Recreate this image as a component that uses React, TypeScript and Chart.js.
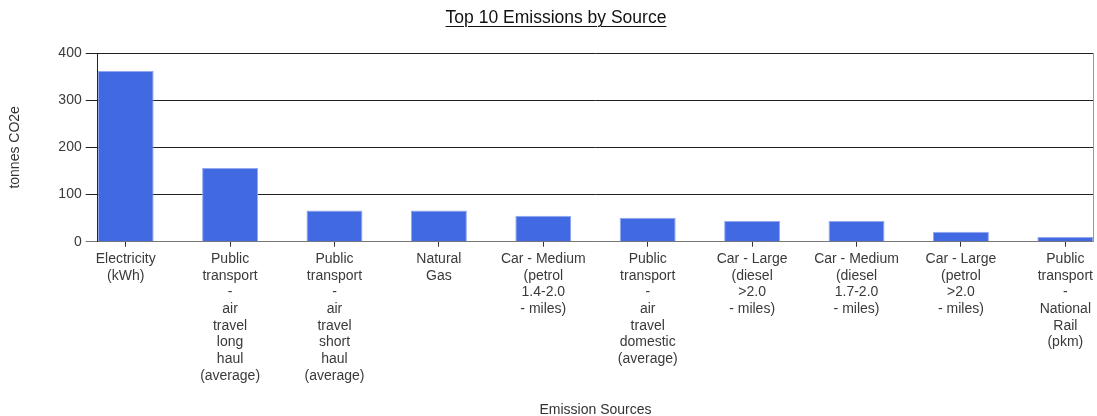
import React, { useEffect, useRef } from "react";
import { Chart, registerables } from "chart.js";

Chart.register(...registerables);

const chartTitle = "Top 10 Emissions by Source";
const yAxisTitle = "tonnes CO2e";
const xAxisTitle = "Emission Sources";

const categories: string[][] = [
  ["Electricity", "(kWh)"],
  ["Public", "transport", "-", "air", "travel", "long", "haul", "(average)"],
  ["Public", "transport", "-", "air", "travel", "short", "haul", "(average)"],
  ["Natural", "Gas"],
  ["Car - Medium", "(petrol", "1.4-2.0", "- miles)"],
  ["Public", "transport", "-", "air", "travel", "domestic", "(average)"],
  ["Car - Large", "(diesel", ">2.0", "- miles)"],
  ["Car - Medium", "(diesel", "1.7-2.0", "- miles)"],
  ["Car - Large", "(petrol", ">2.0", "- miles)"],
  ["Public", "transport", "-", "National", "Rail", "(pkm)"],
];

const emissions: number[] = [362, 156, 66, 66, 55, 51, 44, 44, 21, 10];

const yMin = 0;
const yMax = 400;
const yStep = 100;

const FONT = "'Liberation Sans', Arial, sans-serif";

export default function App() {
  const canvasRef = useRef<HTMLCanvasElement | null>(null);

  useEffect(() => {
    if (!canvasRef.current) return;
    const chart = new Chart(canvasRef.current, {
      type: "bar",
      data: {
        datasets: [
          {
            label: yAxisTitle,
            data: emissions.map((v, i) => ({ x: i, y: v })),
            backgroundColor: "#4169E1",
            borderColor: "#93A8EF",
            borderWidth: 1,
            barPercentage: 0.536,
            categoryPercentage: 1,
          },
        ],
      },
      options: {
        animation: false,
        responsive: true,
        maintainAspectRatio: false,
        layout: { padding: { top: 53, right: 1.5, left: 0, bottom: 0 } },
        plugins: {
          legend: { display: false },
          title: { display: false },
          tooltip: { enabled: false },
        },
        scales: {
          x: {
            type: "linear",
            min: -0.268,
            max: categories.length - 1 + 0.268,
            offset: false,
            afterBuildTicks: (axis: any) => {
              axis.ticks = categories.map((_, i) => ({ value: i }));
            },
            afterFit: (axis: any) => {
              axis.height = 174.3;
            },
            ticks: {
              autoSkip: false,
              maxRotation: 0,
              minRotation: 0,
              padding: 4,
              color: "#3a3a3a",
              font: { family: FONT, size: 14, lineHeight: 1.19 },
              callback: (value: any) => categories[Math.round(Number(value))] ?? "",
            },
            grid: {
              display: true,
              offset: false,
              drawOnChartArea: false,
              drawTicks: true,
              tickLength: 5,
              color: "#333",
              tickColor: "#333",
              tickWidth: 1,
              lineWidth: 1,
            },
            border: { display: true, color: "#777" },
            title: {
              display: true,
              text: xAxisTitle,
              color: "#333",
              font: { family: FONT, size: 14, lineHeight: "12px" as any },
              padding: { top: 0, bottom: 0 },
            },
          },
          y: {
            min: yMin,
            max: yMax,
            afterFit: (axis: any) => {
              axis.width = 97.7;
            },
            ticks: {
              stepSize: yStep,
              padding: 4,
              color: "#3a3a3a",
              font: { family: FONT, size: 14 },
            },
            grid: {
              tickLength: 12,
              color: (ctx: any) => (ctx.tick && ctx.tick.value === 0 ? "#777" : "#222"),
            },
            border: { display: true, color: "#222" },
            title: {
              display: true,
              text: yAxisTitle,
              color: "#333",
              font: { family: FONT, size: 14 },
              padding: { top: 6.5, bottom: 0 },
            },
          },
          y2: {
            position: "right",
            display: true,
            afterFit: (axis: any) => {
              axis.width = 0;
            },
            ticks: { display: false },
            grid: { display: false, drawTicks: false },
            border: { display: true, color: "#999" },
          },
        },
      },
    });
    return () => chart.destroy();
  }, []);

  return (
    <div style={{ position: "absolute", left: 0, top: 0, width: 1097, height: 416, background: "#fff" }}>
      <canvas ref={canvasRef} />
      <div
        style={{
          position: "absolute",
          top: 9,
          left: 0,
          width: 1097,
          boxSizing: "border-box",
          paddingLeft: 15,
          textAlign: "center",
          fontFamily: FONT,
          fontSize: 17.5,
          lineHeight: "17px",
          color: "#111",
          textDecoration: "underline",
          textUnderlineOffset: 3,
          textDecorationThickness: 1,
          pointerEvents: "none",
        }}
      >
        {chartTitle}
      </div>
    </div>
  );
}
